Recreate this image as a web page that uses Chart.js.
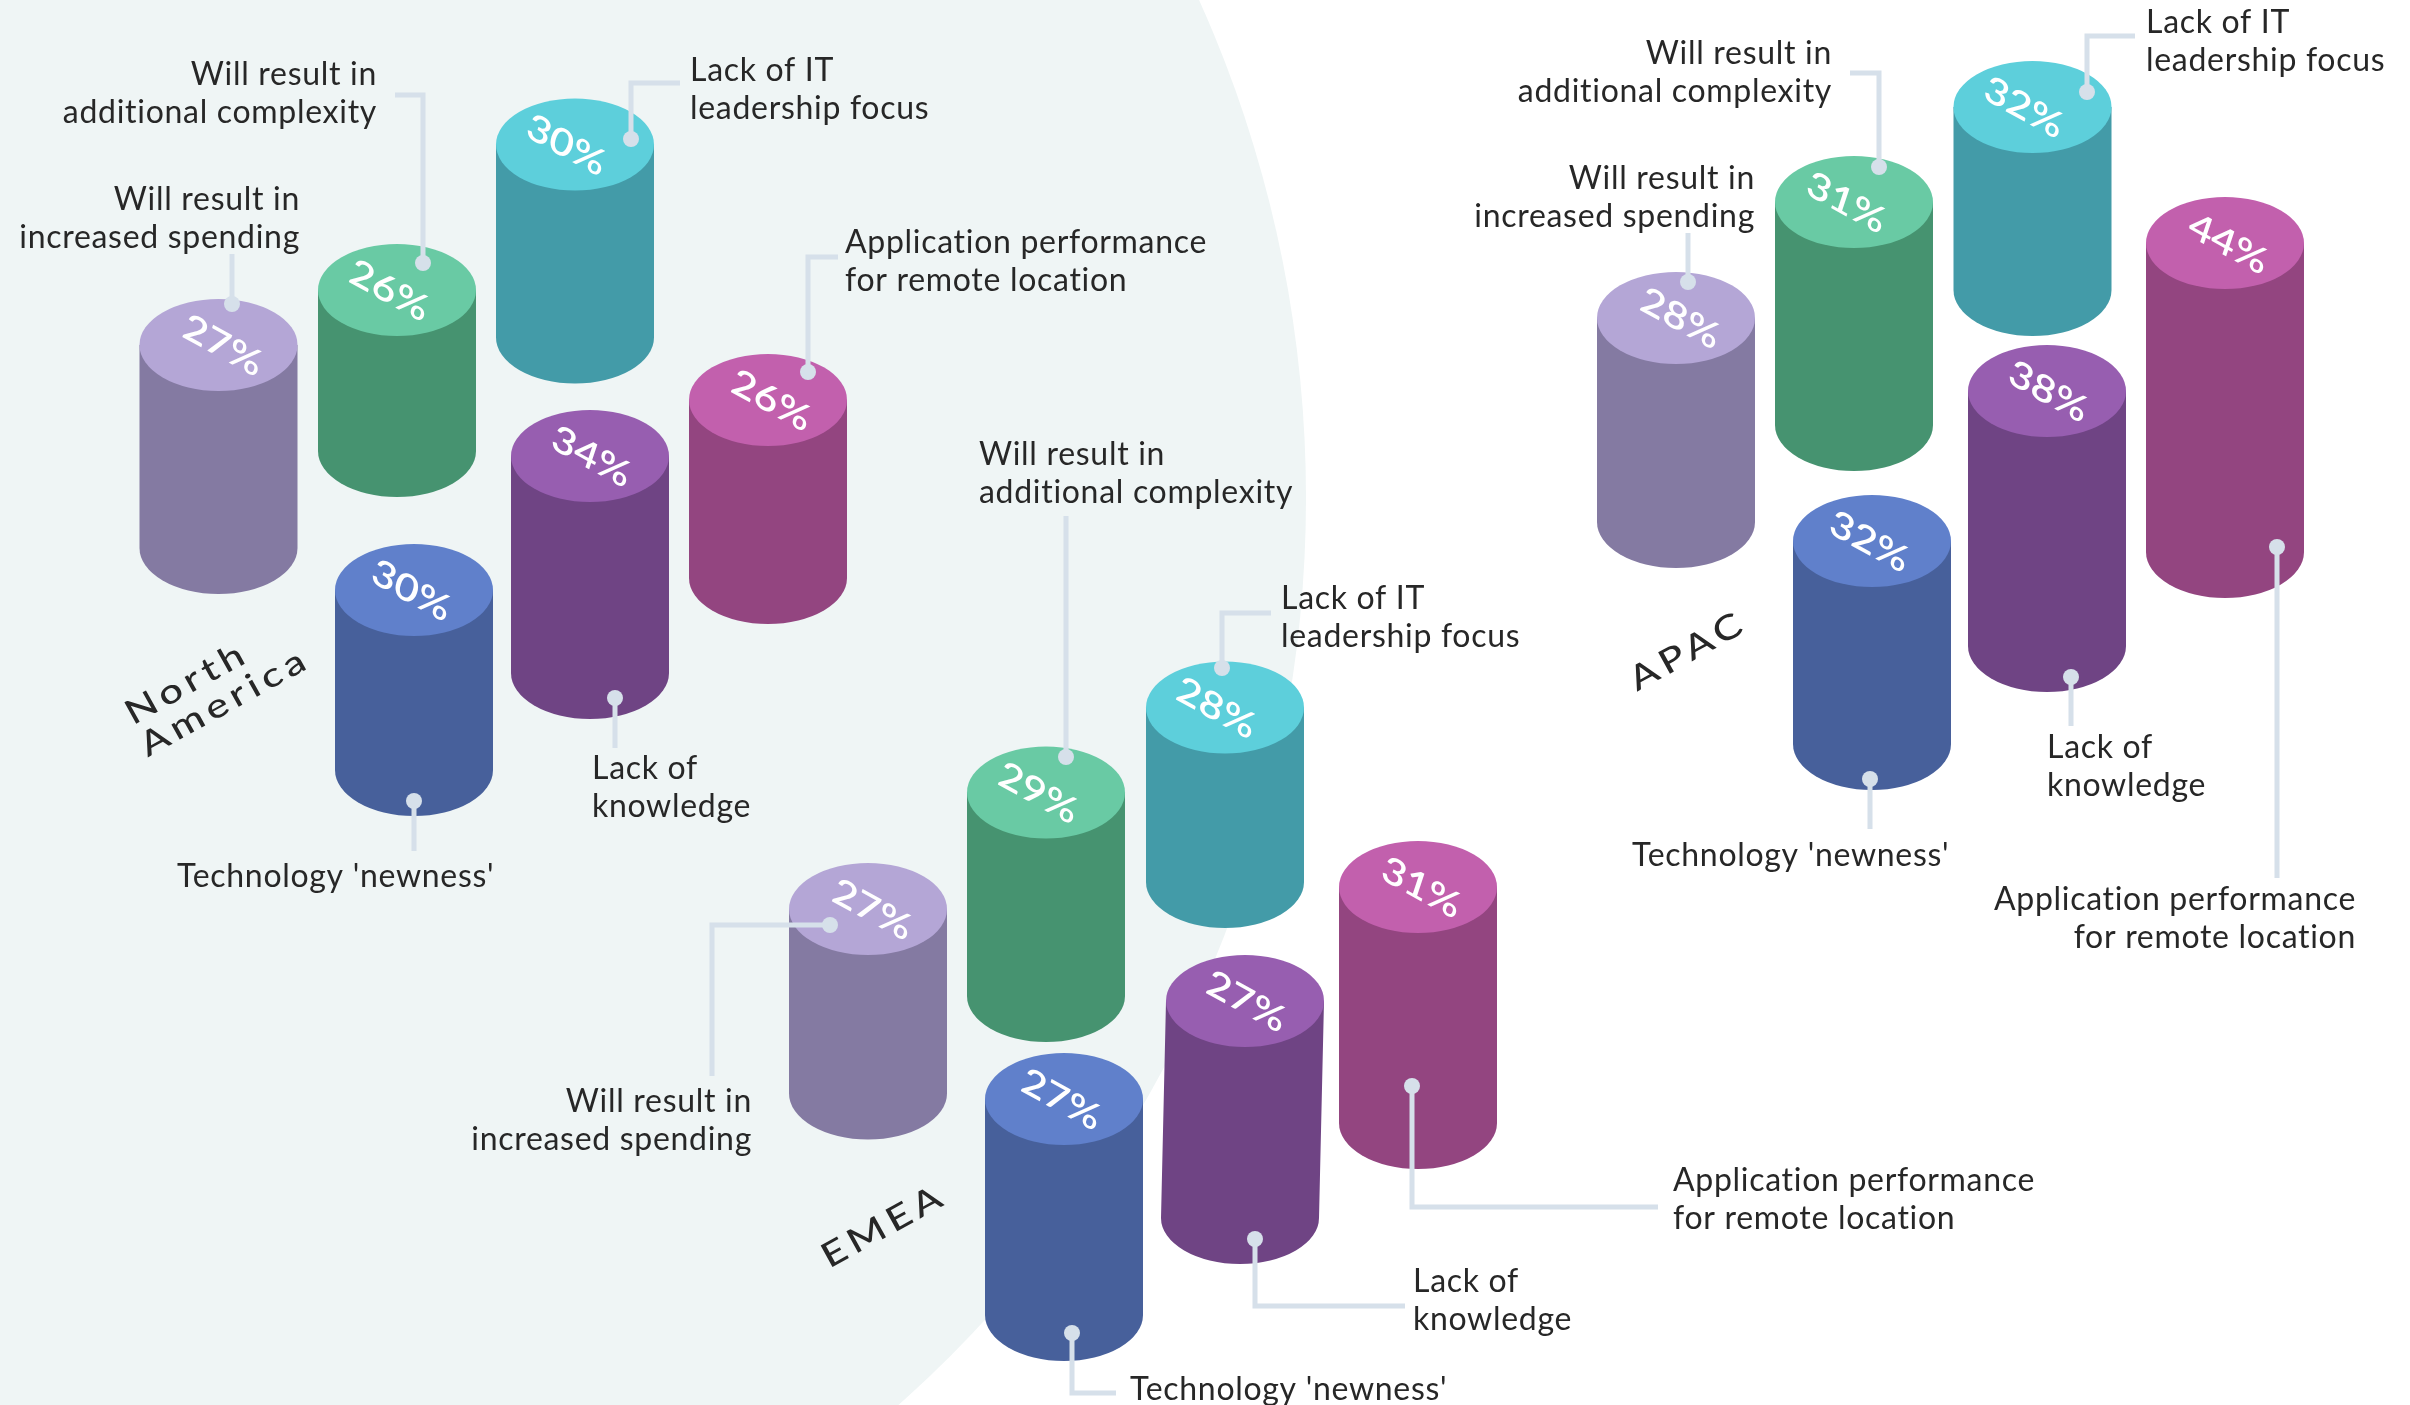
<!DOCTYPE html>
<html>
<head>
<meta charset="utf-8">
<title>Challenges by region</title>
<style>
  html, body { margin: 0; padding: 0; background: #fff; }
  canvas { display: block; }
</style>
<script src="https://cdn.jsdelivr.net/npm/chart.js@4/dist/chart.umd.min.js"></script>
</head>
<body>
<canvas id="regionChart" width="2410" height="1405"></canvas>
<script>
// values, one list per category, ordered like regions
const regions = ["North America", "EMEA", "APAC"];
const categories = [
  "Will result in\nincreased spending",
  "Will result in\nadditional complexity",
  "Lack of IT\nleadership focus",
  "Technology 'newness'",
  "Lack of\nknowledge",
  "Application performance\nfor remote location",
];
const increasedSpending = [27, 27, 28];
const additionalComplexity = [26, 29, 31];
const leadershipFocus = [30, 28, 32];
const technologyNewness = [30, 27, 32];
const lackOfKnowledge = [34, 27, 38];
const applicationPerformance = [26, 31, 44];
const seriesValues = [
  increasedSpending, additionalComplexity, leadershipFocus,
  technologyNewness, lackOfKnowledge, applicationPerformance,
];

// layout of the drawing, same order as seriesValues (page units, y from the top)
const PAGE_W = 2410;
const PAGE_H = 1405;
const columnX = [[218.5, 868, 1676], [397, 1046, 1854], [575, 1225, 2032.5], [414, 1064, 1872], [590, 1245, 2047], [768, 1418, 2225]];
const footY = [[548, 1093.5, 522], [451, 996, 425], [337.5, 882, 290], [770, 1315, 744], [673, 1218, 646], [578, 1123, 552]];
// the columns are not to one scale in the original: page units per percentage point
const risePerPoint = [[7.52, 6.83, 7.29], [6.19, 7.02, 7.19], [6.43, 6.23, 5.72], [6, 8, 6.34], [6.38, 8.04, 6.71], [6.85, 7.61, 7.02]];
const footLean = [[0, 0, 0], [0, 0, 0], [0, 0, 0], [0, 0, 0], [0, -5, 0], [0, 0, 0]];
const lidLabelShift = [4, -8, -9, -3, 1, 3];
const topColors = ["#b4a6d6", "#69caa4", "#5dcfdb", "#6080cb", "#975eb0", "#c260ad"];
const sideColors = ["#847aa2", "#469370", "#439ba8", "#47609b", "#6f4484", "#934580"];
const COLUMN_WIDTH = 158;
const TOP_RY = 46;

// leader lines, the first point carries the dot
const leaderPaths = [
  [[232, 304], [232, 254]],
  [[423, 263], [423, 95], [395, 95]],
  [[631, 139], [631, 83], [680, 83]],
  [[414, 801], [414, 851]],
  [[615, 698], [615, 748]],
  [[808, 372], [808, 257], [838, 257]],
  [[830, 925], [712, 925], [712, 1076]],
  [[1066, 757], [1066, 516]],
  [[1222, 668], [1222, 613], [1271, 613]],
  [[1072, 1333], [1072, 1393], [1116, 1393]],
  [[1255, 1239], [1255, 1306], [1405, 1306]],
  [[1412, 1086], [1412, 1207], [1658, 1207]],
  [[1688, 282], [1688, 233]],
  [[1879, 167], [1879, 73], [1850, 73]],
  [[2087, 92], [2087, 36], [2135, 36]],
  [[1870, 779], [1870, 829]],
  [[2071, 677], [2071, 726]],
  [[2277, 547], [2277, 878]],
];

// category captions per series and region: x, first baseline, alignment
const captionPlaces = [
  [[300, 210, "right"], [752, 1112, "right"], [1755, 189, "right"]],
  [[377, 85, "right"], [979, 465, "left"], [1832, 64, "right"]],
  [[690, 81, "left"], [1281, 609, "left"], [2146, 33, "left"]],
  [[177, 887, "left"], [1130, 1400, "left"], [1632, 866, "left"]],
  [[592, 779, "left"], [1413, 1292, "left"], [2047, 758, "left"]],
  [[845, 253, "left"], [1673, 1191, "left"], [2356, 910, "right"]],
];
const CAPTION_LINE = 38;
// region titles, one place per word line
const regionTitlePlaces = [[[187, 683, "North"], [225, 702, "America"]], [[884, 1226, "EMEA"]], [[1688, 651, "APAC"]]];

const FONT = "Lato, sans-serif";
const elevation = (y) => PAGE_H - y;

// a bar drawn as a standing cylinder: side first, lid on top
class CylinderElement extends Chart.BarElement {
  draw(ctx) {
    const { x, y, base, width } = this.getProps(["x", "y", "base", "width"]);
    const top = Math.min(y, base);
    const foot = Math.max(y, base);
    const rx = width / 2;
    const lean = this.options.footLean;
    ctx.save();
    ctx.fillStyle = this.options.backgroundColor;
    ctx.beginPath();
    ctx.moveTo(x - rx, top);
    ctx.lineTo(x + rx, top);
    ctx.lineTo(x + rx + lean, foot);
    ctx.ellipse(x + lean, foot, rx, TOP_RY, 0, 0, Math.PI);
    ctx.closePath();
    ctx.fill();
    ctx.fillStyle = this.options.lidColor;
    ctx.beginPath();
    ctx.ellipse(x, top, rx, TOP_RY, 0, 0, Math.PI * 2);
    ctx.fill();
    ctx.restore();
  }
}
CylinderElement.id = "cylinder";
CylinderElement.defaults = { ...Chart.BarElement.defaults, lidColor: "#000", footLean: 0 };

class CylinderController extends Chart.BarController {}
CylinderController.id = "cylinder";
CylinderController.defaults = { ...Chart.BarController.defaults, dataElementType: "cylinder" };
Chart.register(CylinderElement, CylinderController);

const backdrop = {
  id: "backdrop",
  beforeDraw(chart) {
    const { ctx, scales } = chart;
    ctx.save();
    ctx.fillStyle = "#eff5f5";
    ctx.beginPath();
    ctx.arc(scales.x.getPixelForValue(93), scales.y.getPixelForValue(elevation(498)), 1213, 0, Math.PI * 2);
    ctx.fill();
    ctx.restore();
  },
};

const texts = {
  id: "texts",
  afterDraw(chart) {
    const { ctx, scales } = chart;
    ctx.save();

    // percentages lie on the lids
    seriesValues.forEach((values, s) => {
      const bars = chart.getDatasetMeta(s).data;
      values.forEach((value, r) => {
        ctx.save();
        ctx.translate(bars[r].x + lidLabelShift[s], Math.min(bars[r].y, bars[r].base) + 1);
        ctx.transform(1.02, 0.56, -0.3, 0.9, 0, 0);
        ctx.font = "600 38px " + FONT;
        ctx.fillStyle = "#fff";
        ctx.textAlign = "center";
        ctx.textBaseline = "middle";
        ctx.fillText(value + "%", 0, 0);
        ctx.restore();
      });
    });

    ctx.fillStyle = "#272727";
    ctx.font = "400 32px " + FONT;
    ctx.letterSpacing = "0.7px";
    ctx.textBaseline = "alphabetic";
    categories.forEach((name, s) => {
      captionPlaces[s].forEach(([x, y, align]) => {
        ctx.textAlign = align;
        name.split("\n").forEach((line, i) => {
          ctx.fillText(line, scales.x.getPixelForValue(x), scales.y.getPixelForValue(elevation(y + i * CAPTION_LINE)));
        });
      });
    });

    ctx.font = "500 40px " + FONT;
    ctx.letterSpacing = "5px";
    ctx.textAlign = "center";
    ctx.textBaseline = "middle";
    regionTitlePlaces.forEach((lines) => {
      lines.forEach(([x, y, word]) => {
        ctx.save();
        ctx.translate(scales.x.getPixelForValue(x), scales.y.getPixelForValue(elevation(y)));
        ctx.rotate((-29 * Math.PI) / 180);
        ctx.scale(1.05, 0.85);
        ctx.fillText(word, 0, 0);
        ctx.restore();
      });
    });
    ctx.restore();
  },
};

const columnDatasets = categories.map((name, s) => ({
  type: "cylinder",
  label: name.replace("\n", " "),
  order: 2,
  barThickness: COLUMN_WIDTH,
  backgroundColor: sideColors[s],
  lidColor: topColors[s],
  footLean: footLean[s],
  data: seriesValues[s].map((value, r) => ({
    x: columnX[s][r],
    y: [elevation(footY[s][r]), elevation(footY[s][r]) + value * risePerPoint[s][r]],
  })),
}));

const leaderDatasets = leaderPaths.map((path) => ({
  type: "line",
  order: 1,
  borderColor: "#d6e0ea",
  backgroundColor: "#d6e0ea",
  borderWidth: 5,
  tension: 0,
  pointBorderWidth: 0,
  pointRadius: (c) => (c.dataIndex === 0 ? 8 : 0),
  data: path.map(([x, y]) => ({ x: x, y: elevation(y) })),
}));

new Chart(document.getElementById("regionChart").getContext("2d"), {
  data: { labels: regions, datasets: columnDatasets.concat(leaderDatasets) },
  options: {
    responsive: false,
    animation: false,
    indexAxis: "x",
    grouped: false,
    events: [],
    layout: { padding: 0, autoPadding: false },
    scales: {
      x: { type: "linear", min: 0, max: PAGE_W, offset: false, display: false },
      y: { type: "linear", min: 0, max: PAGE_H, display: false },
    },
    plugins: { legend: { display: false }, tooltip: { enabled: false } },
  },
  plugins: [backdrop, texts],
});
</script>
</body>
</html>
